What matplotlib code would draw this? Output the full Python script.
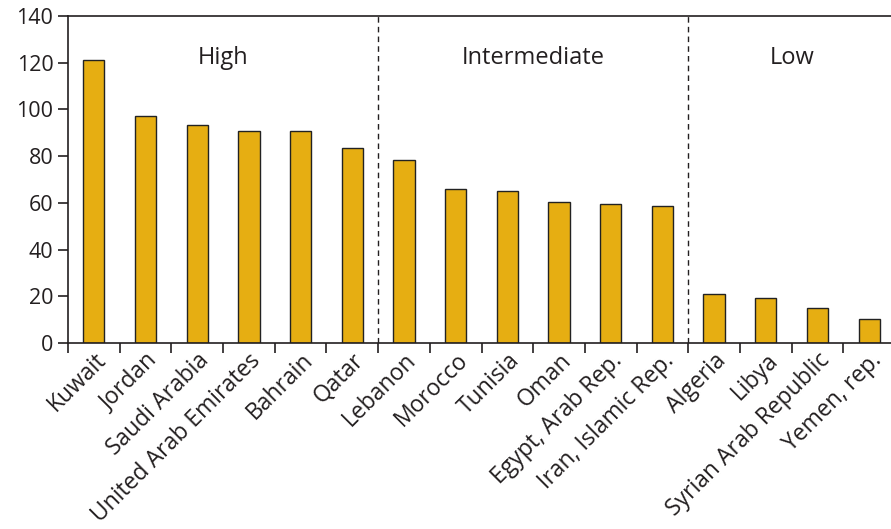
import matplotlib.pyplot as plt
import numpy as np

countries = ['Kuwait', 'Jordan', 'Saudi Arabia', 'United Arab Emirates', 'Bahrain', 'Qatar',
             'Lebanon', 'Morocco', 'Tunisia', 'Oman', 'Egypt, Arab Rep.', 'Iran, Islamic Rep.',
             'Algeria', 'Libya', 'Syrian Arab Republic', 'Yemen, rep.']
values = [121.2, 97.2, 93.2, 90.7, 90.7, 83.3,
          78.3, 66.0, 65.2, 60.3, 59.5, 58.6,
          20.8, 19.1, 15.1, 10.1]
groups = ['High', 'Intermediate', 'Low']
group_sizes = [6, 6, 4]

plt.rcParams['font.family'] = ['Open Sans', 'DejaVu Sans']
fig = plt.figure(figsize=(8.91, 5.29), dpi=100)
ax = fig.add_axes([68 / 891, 186 / 529, (895 - 68) / 891, 327 / 529])

x = np.arange(len(countries)) + 0.5
ax.bar(x, values, width=0.41, color='#E6AE12', edgecolor='#222222', linewidth=1.0)

ax.set_xlim(0, len(countries))
ax.set_ylim(0, 140)
ax.set_yticks(range(0, 141, 20))
ax.set_xticks(np.arange(len(countries) + 1))
ax.set_xticklabels([])
ax.set_xticks(x, minor=True)
ax.set_xticklabels(countries, minor=True, rotation=45, ha='right', va='top',
                   rotation_mode='anchor', fontsize=16.5, color='#231f20')
ax.tick_params(axis='x', which='minor', length=0, pad=4)
ax.tick_params(axis='x', which='major', length=7, width=1.2, color='#231f20', direction='out')
ax.tick_params(axis='y', length=7, width=1.2, color='#231f20', labelsize=15.5, labelcolor='#231f20')

for s in ['left', 'bottom', 'top']:
    ax.spines[s].set_linewidth(1.2)
    ax.spines[s].set_color('#231f20')
ax.spines['right'].set_visible(False)

start = 0
for name, n in zip(groups, group_sizes):
    ax.text(start + n / 2, 122, name, ha='center', va='center', fontsize=17, color='#231f20')
    start += n
    if start < len(countries):
        ax.axvline(start, color='#231f20', linestyle=(0, (4, 3)), linewidth=1.0)

fig.savefig('out.png', dpi=100)
